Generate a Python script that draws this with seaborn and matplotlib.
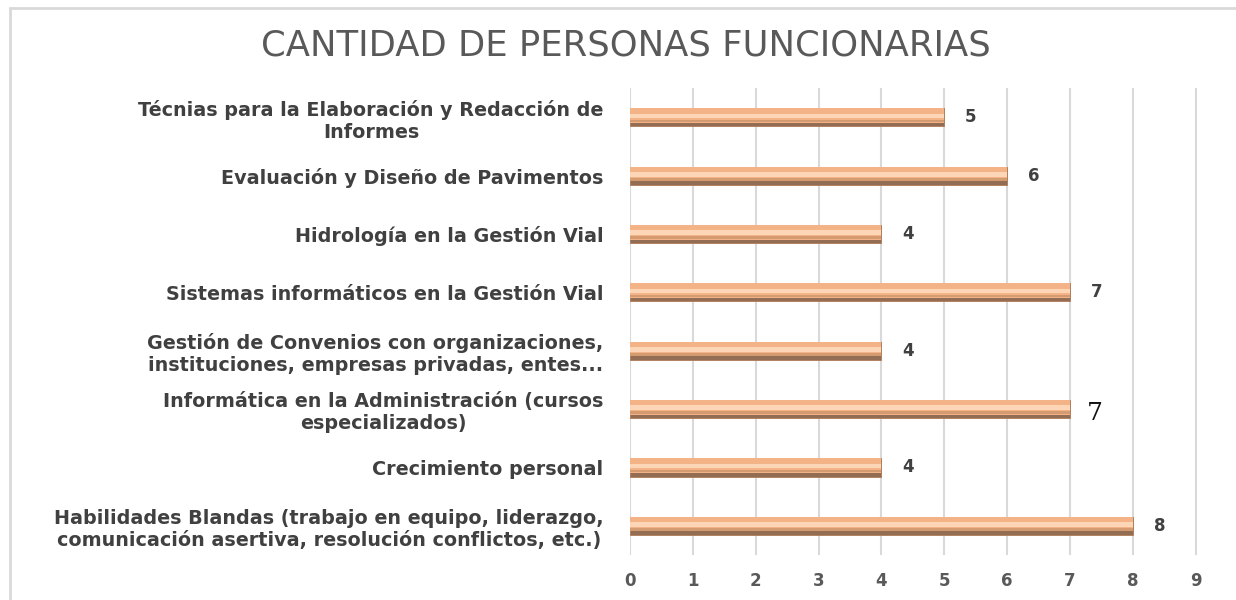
import matplotlib
matplotlib.use("Agg")
import matplotlib.pyplot as plt
import seaborn as sns
import pandas as pd
from matplotlib.patches import Rectangle

# chart data, top to bottom as in the picture
cursos = [
    "Técnias para la Elaboración y Redacción de\nInformes",
    "Evaluación y Diseño de Pavimentos",
    "Hidrología en la Gestión Vial",
    "Sistemas informáticos en la Gestión Vial",
    "Gestión de Convenios con organizaciones,\ninstituciones, empresas privadas, entes...",
    "Informática en la Administración (cursos\nespecializados)",
    "Crecimiento personal",
    "Habilidades Blandas (trabajo en equipo, liderazgo,\ncomunicación asertiva, resolución conflictos, etc.)",
]
personas = [5, 6, 4, 7, 4, 7, 4, 8]
etiquetas = ["5", "6", "4", "7", "4", "7", "4", "8"]
x_ticks = [0, 1, 2, 3, 4, 5, 6, 7, 8, 9]

df = pd.DataFrame({"curso": cursos, "personas": personas})

sns.set_theme(style="white")
plt.rcParams["font.family"] = ["DejaVu Sans"]

fig = plt.figure(figsize=(12.36, 6.0), dpi=100)
ax = fig.add_axes([0.5097, 0.075, 0.4587, 0.778])

# outer chart frame (right edge falls outside the picture)
fig.patches.append(Rectangle((0.008, -0.02), 1.0, 1.006, transform=fig.transFigure,
                             fill=False, edgecolor="#d9d9d9", linewidth=2))

bar_h = 0.31
sns.barplot(data=df, x="personas", y="curso", orient="h", width=bar_h,
            color="#9c6b4a", edgecolor="#b07a55", linewidth=0.6, ax=ax, zorder=3)

# fake bevel: orange body, pale highlight, brown lower band
ypos = list(range(len(cursos)))
ax.barh([y - bar_h * 0.1 for y in ypos], personas, height=bar_h * 0.8,
        color="#f4b287", edgecolor="none", zorder=4)
ax.barh([y - bar_h * 0.08 for y in ypos], personas, height=bar_h * 0.26,
        color="#fcd6b6", edgecolor="none", zorder=5)
ax.barh([y + bar_h * 0.2 for y in ypos], personas, height=bar_h * 0.14,
        color="#d49a70", edgecolor="none", zorder=5)

for y, v, lab in zip(ypos, personas, etiquetas):
    if y == 5:
        ax.text(v + 0.27, y + 0.08, lab, va="center", ha="left", fontsize=18,
                color="#111111", family=["DejaVu Serif"], zorder=6)
    else:
        ax.text(v + 0.33, y, lab, va="center", ha="left", fontsize=12,
                fontweight="bold", color="#404040", zorder=6)

ax.set_xlim(0, 9.02)
ax.set_ylim(len(cursos) - 0.5, -0.5)
ax.set_xticks(x_ticks)
ax.set_xticklabels([str(t) for t in x_ticks], fontsize=12, fontweight="bold", color="#595959")
ax.tick_params(axis="x", length=0, pad=12)
ax.tick_params(axis="y", length=0, pad=19)
for lab in ax.get_yticklabels():
    lab.set_fontsize(13.8)
    lab.set_fontweight("bold")
    lab.set_color("#404040")
    lab.set_multialignment("center")
    lab.set_linespacing(1.2)

ax.grid(axis="x", color="#d9d9d9", linewidth=1.5, zorder=0)
ax.set_axisbelow(True)
for s in ax.spines.values():
    s.set_visible(False)
ax.set_xlabel("")
ax.set_ylabel("")

fig.text(0.506, 0.925, "CANTIDAD DE PERSONAS FUNCIONARIAS", ha="center", va="center",
         fontsize=25.5, color="#595959")

fig.savefig("out.png", dpi=100)
